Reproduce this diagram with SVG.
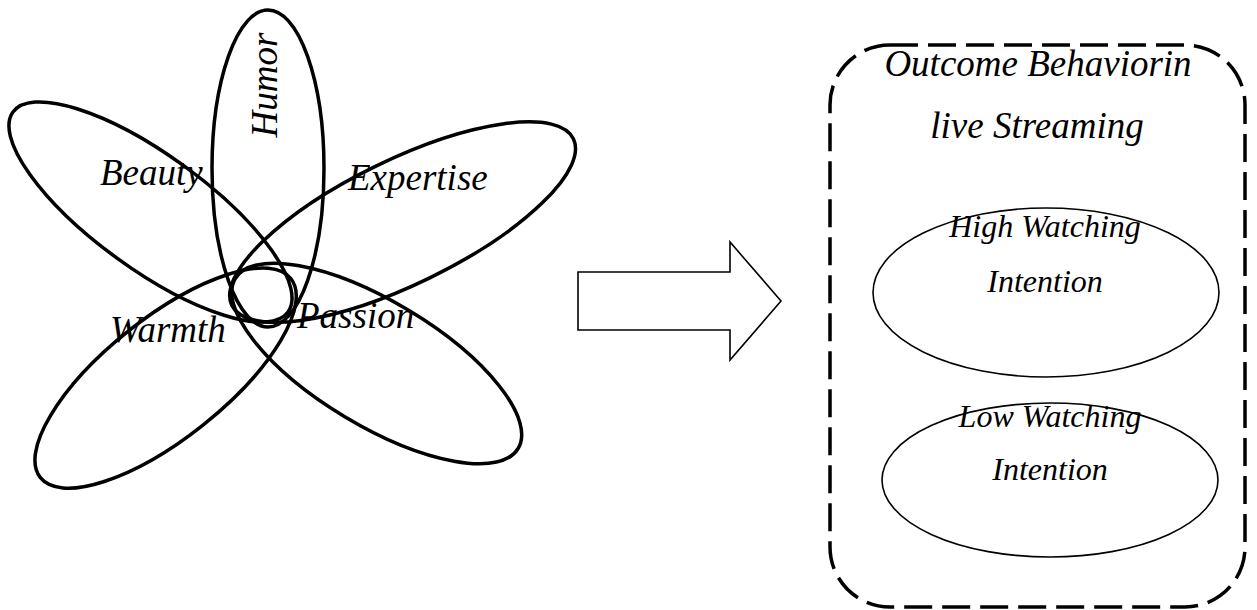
<svg xmlns="http://www.w3.org/2000/svg" width="1257" height="610" viewBox="0 0 1257 610">
<style>
.petal{fill:none;stroke:#000;stroke-width:3.5}
.lbl{font-family:"Liberation Serif","Times New Roman",serif;font-style:italic;font-size:37px;fill:#000}
.in{font-family:"Liberation Serif","Times New Roman",serif;font-style:italic;font-size:32px;fill:#000;text-anchor:middle}
.oval{fill:none;stroke:#000;stroke-width:1.6}
</style>
<rect width="1257" height="610" fill="#fff"/>
<g id="flower">
<g id="humor"><ellipse class="petal" cx="268" cy="168.5" rx="56" ry="158.5"/></g>
<g id="beauty"><ellipse class="petal" cx="0" cy="0" rx="170" ry="57" transform="translate(150.5 212) rotate(36)"/></g>
<g id="expertise"><ellipse class="petal" cx="0" cy="0" rx="190" ry="62" transform="translate(402.6 222.1) rotate(-26)"/></g>
<g id="warmth"><ellipse class="petal" cx="0" cy="0" rx="160" ry="60" transform="translate(165.6 378.1) rotate(-38.5)"/></g>
<g id="passion"><ellipse class="petal" cx="0" cy="0" rx="165" ry="62" transform="translate(376.7 363.5) rotate(31)"/></g>
<text class="lbl" transform="translate(277 85) rotate(-90)" text-anchor="middle">Humor</text>
<text class="lbl" x="100" y="185">Beauty</text>
<text class="lbl" x="348" y="190">Expertise</text>
<text class="lbl" x="110" y="342">Warmth</text>
<text class="lbl" x="297" y="328">Passion</text>
</g>
<g id="connectors">
<polygon points="578,272 730,272 730,242 781,301 730,360 730,330 578,330" fill="#fff" stroke="#000" stroke-width="1.6" stroke-linejoin="miter"/>
</g>
<g id="outcome">
<rect x="830" y="45" width="415" height="562" rx="60" ry="60" fill="none" stroke="#000" stroke-width="3.5" stroke-dasharray="28 10"/>
<text class="lbl" x="1038" y="76" text-anchor="middle">Outcome Behaviorin</text>
<text class="lbl" x="1037" y="138" text-anchor="middle">live Streaming</text>
</g>
<g id="high">
<ellipse class="oval" cx="1046" cy="292.5" rx="173" ry="84.5"/>
<text class="in" x="1045" y="237">High Watching</text>
<text class="in" x="1045" y="292">Intention</text>
</g>
<g id="low">
<ellipse class="oval" cx="1050" cy="480" rx="168" ry="77"/>
<text class="in" x="1050" y="427">Low Watching</text>
<text class="in" x="1050" y="480">Intention</text>
</g>
</svg>
